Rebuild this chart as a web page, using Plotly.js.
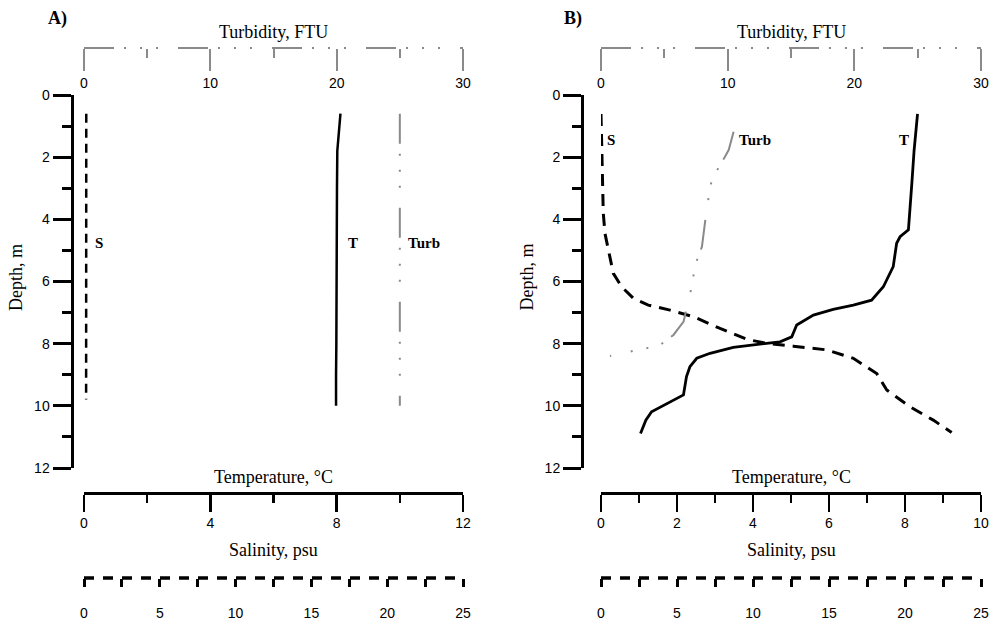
<!DOCTYPE html>
<html><head><meta charset="utf-8">
<script src="https://cdn.plot.ly/plotly-3.0.1.min.js"></script>
<style>html,body{margin:0;padding:0;background:#fff}#chart{width:994px;height:625px}</style>
</head><body><div id="chart"></div>
<script>
// ---------- Panel A data ----------
const depthA_T = [0.6, 1.0, 1.8, 3.0, 4.0, 5.0, 6.0, 7.0, 8.0, 9.0, 10.0];
const tempA    = [8.12, 8.08, 8.02, 8.01, 8.01, 8.0, 8.0, 7.99, 7.99, 7.98, 7.98];
const depthA_S = [0.6, 2.0, 4.0, 6.0, 8.0, 9.8];
const salA     = [0.15, 0.15, 0.15, 0.14, 0.14, 0.14];
const depthA_Turb = [0.6, 2.0, 4.0, 6.0, 8.0, 10.0];
const turbA       = [25, 25, 25, 25, 25, 25];

// ---------- Panel B data ----------
const depthB_T = [0.61, 1.77, 2.84, 3.70, 4.34, 4.56, 4.77, 5.52, 6.17, 6.60, 6.76, 6.90, 7.08, 7.40, 7.78, 7.94, 8.01, 8.12, 8.31, 8.47, 8.74, 9.06, 9.65, 9.87, 10.19, 10.46, 10.89];
const tempB    = [8.33, 8.24, 8.18, 8.13, 8.09, 7.87, 7.78, 7.69, 7.43, 7.12, 6.64, 6.11, 5.59, 5.15, 5.02, 4.71, 4.18, 3.48, 2.87, 2.52, 2.34, 2.25, 2.17, 1.82, 1.33, 1.18, 1.04];
const depthB_S = [0.61, 1.77, 2.84, 3.80, 4.45, 4.99, 5.74, 6.17, 6.54, 6.76, 6.92, 7.13, 7.51, 7.86, 7.99, 8.08, 8.20, 8.47, 8.96, 9.49, 10.03, 10.46, 10.86];
const salB     = [0.0, 0.04, 0.10, 0.15, 0.26, 0.48, 0.81, 1.36, 2.13, 3.11, 4.54, 6.07, 7.83, 9.59, 10.9, 12.65, 14.85, 16.6, 18.14, 18.8, 20.33, 21.86, 23.07];
const depthB_Turb = [1.18, 1.77, 2.25, 2.68, 3.59, 4.24, 4.88, 5.31, 5.79, 6.38, 6.86, 7.29, 7.72, 8.08, 8.18, 8.40];
const turbB       = [10.47, 10.08, 9.42, 8.76, 8.37, 8.16, 7.97, 7.58, 7.31, 7.05, 6.78, 6.52, 5.72, 4.54, 3.09, 0.71];

// ---------- Axis ranges / labels ----------
const tempRangeA = [0, 12], tempRangeB = [0, 10];
const salRange = [0, 25], turbRange = [0, 30], depthRange = [12, 0];
const panelLabels = ['A)', 'B)'];
const seriesLabels = ['S', 'T', 'Turb'];
const titleTurb = 'Turbidity, FTU', titleTemp = 'Temperature, °C', titleSal = 'Salinity, psu', titleDepth = 'Depth, m';

// ---------- layout geometry (pixels) ----------
const W = 994, H = 625;
const px = v => v / W, py = v => 1 - v / H;
const yTop = 95, yBot = 468;
const panels = [
  {x0: 84, x1: 463, yAxisX: 71.5},
  {x0: 601, x1: 981, yAxisX: 582}
];
const turbY = 48, tempY = 493, salY = 578;

const sans = 'Liberation Sans, Arial, sans-serif';
const serif = 'Liberation Serif, Times New Roman, serif';
const turbDash = '30px,10px,2px,14px,2px,14px,2px,20px';
const gray = '#8a8a8a';

function depthAxis(p) {
  return {
    domain: [py(yBot), py(yTop)], range: depthRange, anchor: 'free', position: px(p.yAxisX),
    side: 'left', showgrid: false, zeroline: false, showline: true, linewidth: 3, linecolor: '#000',
    ticks: 'outside', ticklen: 18, tickwidth: 3, tickcolor: '#000', dtick: 2, tick0: 0,
    minor: {dtick: 1, ticks: 'outside', ticklen: 9, tickwidth: 3, tickcolor: '#000', showgrid: false},
    tickfont: {family: sans, size: 14, color: '#000'}, fixedrange: true
  };
}
function tempAxis(p, range, dtick, mdtick) {
  return {
    domain: [px(p.x0), px(p.x1)], range: range, anchor: 'free', position: py(tempY), side: 'bottom',
    showgrid: false, zeroline: false, showline: true, linewidth: 2.5, linecolor: '#000',
    ticks: 'outside', ticklen: 17, tickwidth: 2.5, tickcolor: '#000', dtick: dtick, tick0: 0,
    minor: {dtick: mdtick, ticks: 'outside', ticklen: 8, tickwidth: 2.5, tickcolor: '#000', showgrid: false},
    tickfont: {family: sans, size: 14, color: '#000'}, fixedrange: true
  };
}
function salAxis(p, overlay) {
  return {
    domain: [px(p.x0), px(p.x1)], range: salRange, anchor: 'free', position: py(salY), side: 'bottom',
    overlaying: overlay, showgrid: false, zeroline: false, showline: false,
    ticks: 'outside', ticklen: 8, tickwidth: 3, tickcolor: '#000', dtick: 5, tick0: 0,
    minor: {dtick: 2.5, ticks: 'outside', ticklen: 8, tickwidth: 3, tickcolor: '#000', showgrid: false},
    tickfont: {family: sans, size: 14, color: '#000'}, ticklabelstandoff: 14, fixedrange: true
  };
}
function turbAxis(p, overlay) {
  return {
    domain: [px(p.x0), px(p.x1)], range: turbRange, anchor: 'free', position: py(turbY), side: 'bottom',
    overlaying: overlay, showgrid: false, zeroline: false, showline: false,
    ticks: 'outside', ticklen: 22, tickwidth: 2, tickcolor: gray, dtick: 10, tick0: 0,
    minor: {dtick: 5, ticks: 'outside', ticklen: 9, tickwidth: 2, tickcolor: gray, showgrid: false},
    tickfont: {family: sans, size: 14, color: '#000'}, fixedrange: true
  };
}

const traces = [
  {x: salA, y: depthA_S, xaxis: 'x2', yaxis: 'y', mode: 'lines', line: {color: '#000', width: 2.5, dash: '9px,6px'}},
  {x: tempA, y: depthA_T, xaxis: 'x', yaxis: 'y', mode: 'lines', line: {color: '#000', width: 2.5}},
  {x: turbA, y: depthA_Turb, xaxis: 'x3', yaxis: 'y', mode: 'lines', line: {color: gray, width: 2, dash: turbDash}},
  {x: salB, y: depthB_S, xaxis: 'x5', yaxis: 'y2', mode: 'lines', line: {color: '#000', width: 3, dash: '12px,8px'}},
  {x: tempB, y: depthB_T, xaxis: 'x4', yaxis: 'y2', mode: 'lines', line: {color: '#000', width: 2.8}},
  {x: turbB, y: depthB_Turb, xaxis: 'x6', yaxis: 'y2', mode: 'lines', line: {color: gray, width: 2, dash: turbDash}}
];

function ann(text, x, y, xref, yref, font, extra) {
  return Object.assign({text: text, x: x, y: y, xref: xref, yref: yref, showarrow: false, font: font,
    xanchor: 'center', yanchor: 'middle'}, extra || {});
}
const titleFont = {family: serif, size: 18, color: '#000'};
const labFont = {family: serif, size: 15, color: '#000', weight: 'bold'};

const annotations = [];
panels.forEach((p, i) => {
  const cx = px((p.x0 + p.x1) / 2);
  annotations.push(ann(titleTurb, cx, py(32), 'paper', 'paper', titleFont));
  annotations.push(ann(titleTemp, cx, py(477), 'paper', 'paper', titleFont));
  annotations.push(ann(titleSal, cx, py(550), 'paper', 'paper', titleFont));
  annotations.push(ann(titleDepth, px(p.yAxisX - 55), py((yTop + yBot) / 2 - 4), 'paper', 'paper', titleFont, {textangle: -90}));
  annotations.push(ann('<b>' + panelLabels[i] + '</b>', px(i === 0 ? 57 : 573), py(19), 'paper', 'paper', {family: serif, size: 18, color: '#000'}));
});
// series labels (data coordinates)
annotations.push(ann(seriesLabels[0], 0.6, 4.75, 'x2', 'y', labFont, {xanchor: 'left'}));
annotations.push(ann(seriesLabels[1], 8.3, 4.75, 'x', 'y', labFont, {xanchor: 'left'}));
annotations.push(ann(seriesLabels[2], 25.5, 4.75, 'x3', 'y', labFont, {xanchor: 'left'}));
annotations.push(ann(seriesLabels[0], 0.25, 1.45, 'x5', 'y2', labFont, {xanchor: 'left'}));
annotations.push(ann(seriesLabels[2], 10.75, 1.45, 'x6', 'y2', labFont, {xanchor: 'left'}));
annotations.push(ann(seriesLabels[1], 7.8, 1.45, 'x4', 'y2', labFont, {xanchor: 'left'}));

const shapes = [
  {type: 'line', xref: 'x2', yref: 'paper', x0: salRange[0], x1: salRange[1], y0: py(salY), y1: py(salY), line: {color: '#000', width: 3.5, dash: '10px,9px'}},
  {type: 'line', xref: 'x3', yref: 'paper', x0: turbRange[0], x1: turbRange[1], y0: py(turbY), y1: py(turbY), line: {color: gray, width: 2, dash: turbDash}},
  {type: 'line', xref: 'x5', yref: 'paper', x0: salRange[0], x1: salRange[1], y0: py(salY), y1: py(salY), line: {color: '#000', width: 3.5, dash: '10px,9px'}},
  {type: 'line', xref: 'x6', yref: 'paper', x0: turbRange[0], x1: turbRange[1], y0: py(turbY), y1: py(turbY), line: {color: gray, width: 2, dash: turbDash}}
];

const layout = {
  width: W, height: H, margin: {l: 0, r: 0, t: 0, b: 0},
  paper_bgcolor: '#fff', plot_bgcolor: 'rgba(0,0,0,0)', showlegend: false,
  xaxis: tempAxis(panels[0], tempRangeA, 4, 2),
  xaxis2: salAxis(panels[0], 'x'),
  xaxis3: turbAxis(panels[0], 'x'),
  xaxis4: tempAxis(panels[1], tempRangeB, 2, 1),
  xaxis5: salAxis(panels[1], 'x4'),
  xaxis6: turbAxis(panels[1], 'x4'),
  yaxis: depthAxis(panels[0]),
  yaxis2: depthAxis(panels[1]),
  annotations: annotations, shapes: shapes
};

Plotly.newPlot('chart', traces, layout, {displayModeBar: false, staticPlot: true});
</script>
</body></html>
